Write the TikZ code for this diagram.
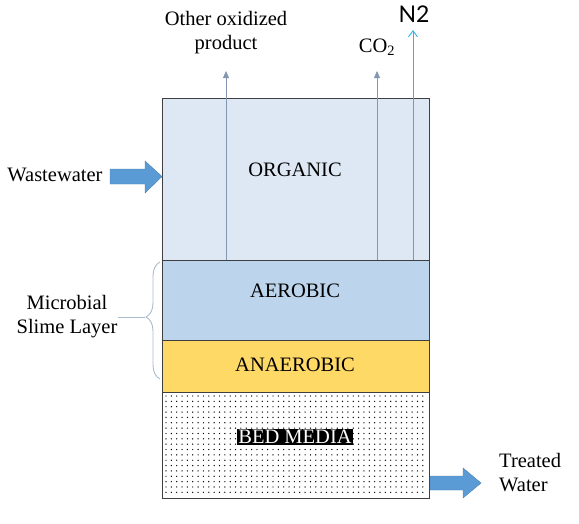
\documentclass[tikz,border=0pt]{standalone}
\usepackage{fontspec}
\setmainfont{Liberation Serif}
\newfontfamily\nfont{Lato}
\usetikzlibrary{arrows.meta,decorations.pathreplacing}
\definecolor{orgc}{HTML}{DEE8F4}
\definecolor{aerc}{HTML}{BDD5EC}
\definecolor{anac}{HTML}{FFD966}
\definecolor{blk}{HTML}{5B9BD5}
\definecolor{blkd}{HTML}{4A7EB0}
\definecolor{gasc}{HTML}{8497B0}
\definecolor{n2c}{HTML}{35B0E8}
\definecolor{bracec}{HTML}{A9BCCD}
\definecolor{edgec}{HTML}{3F3F3F}
\begin{document}
\begin{tikzpicture}[x=1pt,y=-1pt,
  layer/.style={rectangle,inner sep=0pt,anchor=north west,minimum width=267pt},
  lbl/.style={font=\fontsize{20.5}{23}\selectfont,inner sep=0pt},
  txt/.style={font=\fontsize{20.5}{24}\selectfont,inner sep=0pt,align=center},
  gas/.style={draw=gasc,line width=0.8pt,-{Triangle[length=7pt,width=6pt]}},
  blockarrow/.style={fill=blk,draw=blkd,line width=0.4pt}
]
\useasboundingbox (0,0) rectangle (579,523);
% layers
\node[layer,fill=orgc,minimum height=162pt] (org) at (162,98) {};
\node[layer,fill=aerc,minimum height=80pt] (aer) at (162,260) {};
\node[layer,fill=anac,minimum height=52pt] (ana) at (162,340) {};
\node[layer,fill=white,minimum height=106pt] (bed) at (162,392) {};
% dots of bed media
\foreach \i in {0,...,48} {
  \foreach \j in {0,...,18} {
    \fill[black] (166+\i*5.35,396+\j*5.35) circle (0.7pt);
  }
}
% borders
\draw[edgec,line width=0.9pt] (org.north west) rectangle (bed.south east);
\draw[edgec,line width=0.6pt] (aer.north west) -- (aer.north east);
\draw[edgec,line width=0.6pt] (ana.north west) -- (ana.north east);
\draw[edgec,line width=0.6pt] (bed.north west) -- (bed.north east);
% labels
\node[lbl] (lorg) at (295,170) {ORGANIC};
\node[lbl] (laer) at (295,291) {AEROBIC};
\node[lbl] (lana) at (295,365) {ANAEROBIC};
\node[lbl,fill=black,text=white,inner sep=1.5pt] (lbed) at (295,437) {BED MEDIA};
% gas arrows
\coordinate (g1s) at (226,260);
\coordinate (g1e) at (226,71);
\coordinate (g2s) at (377,260);
\coordinate (g2e) at (377,71);
\coordinate (g3s) at (413,260);
\coordinate (g3e) at (413,30);
\draw[gas] (g1s) -- (g1e);
\draw[gas] (g2s) -- (g2e);
\draw[n2c,line width=0.9pt,-{Straight Barb[length=6pt,width=9pt]}] (g3s) -- (g3e);
\node[txt] (tox) at (226,33) {Other oxidized\\product};
\node[txt] (tco) at (377,47) {CO\textsubscript{2}};
\node[font=\nfont\fontsize{23}{25}\selectfont,inner sep=0pt] (tn2) at (414,14) {N2};
% wastewater
\node[txt] (tww) at (55,175) {Wastewater};
\draw[blockarrow] (110,169) -- (145,169) -- (145,161) -- (162,176.5) -- (145,193) -- (145,184) -- (110,184) -- cycle;
% treated water
\draw[blockarrow] (430,476) -- (463,476) -- (463,468) -- (481,483) -- (463,498) -- (463,490) -- (430,490) -- cycle;
\node[txt,align=left,anchor=west] (ttw) at (499,473) {Treated\\Water};
% brace
\coordinate (bt) at (160,262);
\coordinate (bb) at (160,379);
\draw[bracec,line width=0.9pt,decorate,decoration={brace,mirror,amplitude=14pt,aspect=0.47}] (bt) -- (bb);
\coordinate (btip) at (145,317);
\coordinate (bline) at (118,317);
\draw[bracec,line width=0.9pt] (btip) -- (bline);
\node[txt] (tms) at (67,317) {Microbial\\Slime Layer};
\end{tikzpicture}
\end{document}
